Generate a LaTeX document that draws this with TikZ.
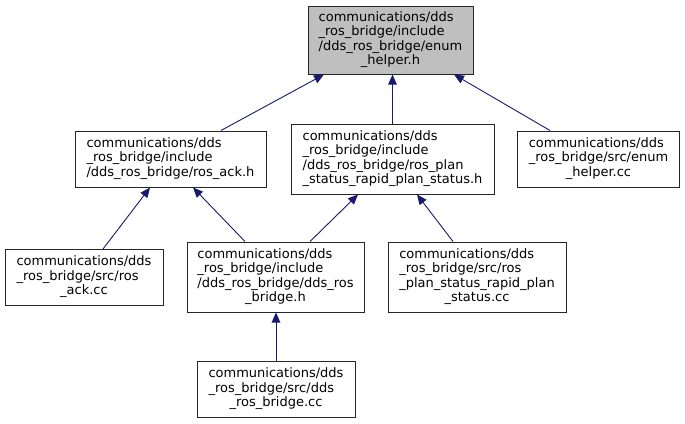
\documentclass[tikz,border=0pt]{standalone}
\usepackage{fontspec}
\setmainfont{DejaVu Sans}
\usetikzlibrary{arrows.meta}
\definecolor{edgeblue}{RGB}{25,25,112}
\definecolor{hlgray}{RGB}{191,191,191}
\newcommand\lbl[2]{\begin{tabular}{@{}l@{}}#1\\\multicolumn{1}{@{}c@{}}{#2}\end{tabular}}
\begin{document}
\begin{tikzpicture}[x=1pt,y=-1pt,
  box/.style={draw=black!85, line width=1pt, fill=white, inner sep=0pt,
    font=\fontsize{13}{14.5}\selectfont, anchor=center},
  hi/.style={box, fill=hlgray},
  link/.style={draw=edgeblue, line width=0.9pt, -{Triangle[length=10pt,width=8.5pt]}}]
\useasboundingbox (0,0) rectangle (685,423);
\fill[white] (0,0) rectangle (685,423);

\node[hi, minimum width=165, minimum height=68] (top) at (390.5,40)
  {\lbl{communications/dds\\\_ros\_bridge/include\\/dds\_ros\_bridge/enum}{\_helper.h}};

\node[box, minimum width=191, minimum height=56] (ackh) at (170.5,159)
  {\lbl{communications/dds\\\_ros\_bridge/include}{/dds\_ros\_bridge/ros\_ack.h}};
\node[box, minimum width=203, minimum height=70] (planh) at (392.5,159)
  {\lbl{communications/dds\\\_ros\_bridge/include\\/dds\_ros\_bridge/ros\_plan}{\_status\_rapid\_plan\_status.h}};
\node[box, minimum width=162, minimum height=56] (enumcc) at (598.5,159)
  {\lbl{communications/dds\\\_ros\_bridge/src/enum}{\_helper.cc}};

\node[box, minimum width=158, minimum height=56] (ackcc) at (84,277.5)
  {\lbl{communications/dds\\\_ros\_bridge/src/ros}{\_ack.cc}};
\node[box, minimum width=177, minimum height=70] (ddsh) at (275.5,277)
  {\lbl{communications/dds\\\_ros\_bridge/include\\/dds\_ros\_bridge/dds\_ros}{\_bridge.h}};
\node[box, minimum width=178, minimum height=70] (plancc) at (477,277)
  {\lbl{communications/dds\\\_ros\_bridge/src/ros\\\_plan\_status\_rapid\_plan}{\_status.cc}};

\node[box, minimum width=158, minimum height=56] (ddscc) at (276,389.5)
  {\lbl{communications/dds\\\_ros\_bridge/src/dds}{\_ros\_bridge.cc}};

\draw[link] ([xshift=50.5pt]ackh.north) -- ([xshift=-66.5pt]top.south);
\draw[link] (planh.north) -- (planh.north |- top.south);
\draw[link] ([xshift=-48.5pt]enumcc.north) -- ([xshift=63.5pt]top.south);
\draw[link] ([xshift=19pt]ackcc.north) -- ([xshift=-20.5pt]ackh.south);
\draw[link] ([xshift=-30.5pt]ddsh.north) -- ([xshift=22.5pt]ackh.south);
\draw[link] ([xshift=34.5pt]ddsh.north) -- ([xshift=-34.5pt]planh.south);
\draw[link] ([xshift=-24pt]plancc.north) -- ([xshift=24.5pt]planh.south);
\draw[link] (ddscc.north) -- (ddscc.north |- ddsh.south);
\end{tikzpicture}
\end{document}
